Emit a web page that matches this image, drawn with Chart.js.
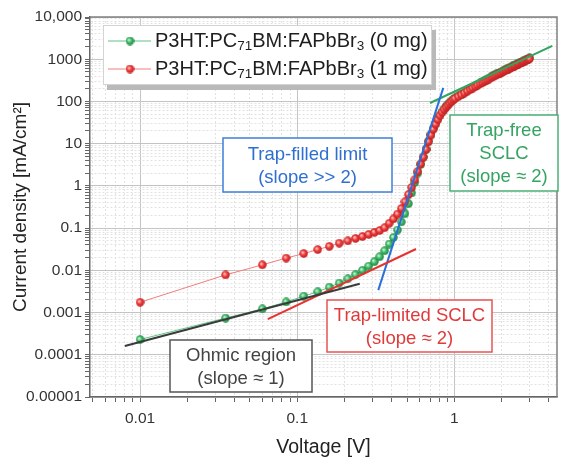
<!DOCTYPE html>
<html>
<head>
<meta charset="utf-8">
<script src="https://cdn.jsdelivr.net/npm/chart.js@4.4.0/dist/chart.umd.min.js"></script>
<style>
  html, body { margin: 0; padding: 0; background: #fff; }
  canvas { display: block; }
</style>
</head>
<body>
<canvas id="jv-chart" width="562" height="460"></canvas>
<script>
// voltage sweep [V]
const voltage = [
  0.01, 0.035, 0.06, 0.085, 0.11, 0.135, 0.16, 0.185, 0.21, 0.235, 0.26, 0.285, 0.31, 0.335,
  0.36, 0.385, 0.41, 0.435, 0.46, 0.485, 0.51, 0.535, 0.56, 0.585, 0.61, 0.635, 0.66, 0.685,
  0.71, 0.735, 0.76, 0.785, 0.81, 0.835, 0.86, 0.885, 0.91, 0.935, 0.96, 0.985, 1.01,
  1.06, 1.11, 1.16, 1.21, 1.26, 1.31, 1.36, 1.41, 1.46, 1.51, 1.56, 1.61, 1.66, 1.71, 1.76,
  1.81, 1.86, 1.91, 1.96, 2.01, 2.06, 2.11, 2.16, 2.21, 2.26, 2.31, 2.36, 2.41, 2.46, 2.51,
  2.56, 2.61, 2.66, 2.71, 2.76, 2.81, 2.86, 2.91, 2.96, 3.01
];

// current density [mA/cm2], 0 mg perovskite
const current0mg = [
  0.00023, 0.00074, 0.00122, 0.00178, 0.00245, 0.0031, 0.0040, 0.0050, 0.0063, 0.0079, 0.0100, 0.0126, 0.0160, 0.021,
  0.029, 0.042, 0.060, 0.090, 0.14, 0.22, 0.38, 0.68, 1.2, 2.0, 3.2, 4.8, 7.3, 11.5,
  16.5, 23, 30, 38.5, 48, 57, 67, 76, 85, 95, 104, 113, 122,
  136, 150, 166, 183, 200, 218, 236, 255, 275, 295, 316, 337, 358, 380, 402,
  424, 447, 470, 493, 517, 541, 565, 590, 615, 640, 666, 692, 719, 746, 774,
  802, 830, 859, 888, 918, 948, 978, 1009, 1040, 1075
];

// current density [mA/cm2], 1 mg perovskite
const current1mg = [
  0.00175, 0.0078, 0.0135, 0.0195, 0.025, 0.031, 0.037, 0.044, 0.050, 0.057, 0.063, 0.071, 0.079, 0.088,
  0.102, 0.13, 0.165, 0.215, 0.29, 0.42, 0.62, 0.92, 1.4, 2.2, 3.3, 4.8, 7.3, 11.2,
  16, 22, 29, 37, 46, 55, 64, 73, 82, 91, 100, 109, 117,
  130, 143, 158, 174, 190, 207, 224, 242, 261, 280, 300, 320, 340, 361, 382,
  403, 425, 447, 468, 491, 514, 537, 560, 584, 608, 633, 658, 684, 710, 740,
  766, 793, 820, 848, 876, 905, 934, 964, 994, 1030
];

// fitted regimes (two end points each)
const ohmicV = [0.008, 0.25];
const ohmicJ = [0.000162, 0.0048];
const trapLimitedV = [0.065, 0.57];
const trapLimitedJ = [0.0007, 0.032];
const trapFilledV = [0.328, 0.85];
const trapFilledJ = [0.0034, 210];
const trapFreeV = [0.70, 4.2];
const trapFreeJ = [92, 2080];

// axis ticks
const xTickValues = [0.01, 0.1, 1];
const xTickLabels = ['0.01', '0.1', '1'];
const yTickValues = [1e-5, 1e-4, 1e-3, 1e-2, 1e-1, 1, 10, 100, 1000, 10000];
const yTickLabels = ['0.00001', '0.0001', '0.001', '0.01', '0.1', '1', '10', '100', '1000', '10,000'];

const FONT = '"Liberation Sans", Arial, sans-serif';
Chart.defaults.font.family = FONT;

function toPoints(xs, ys) {
  return xs.map((x, i) => ({ x: x, y: ys[i] }));
}

function sphere(light, base, dark) {
  const c = document.createElement('canvas');
  c.width = 9;
  c.height = 9;
  const g = c.getContext('2d');
  const grad = g.createRadialGradient(3.3, 3.3, 0.4, 4.5, 4.5, 4.6);
  grad.addColorStop(0, light);
  grad.addColorStop(0.45, base);
  grad.addColorStop(1, dark);
  g.fillStyle = grad;
  g.beginPath();
  g.arc(4.5, 4.5, 4.2, 0, Math.PI * 2);
  g.fill();
  return c;
}

const greenDot = sphere('#c8f5d3', '#3dbb68', '#1c7a3b');
const redDot = sphere('#ffc0c0', '#f03b3b', '#b31a1a');

function decadeTicks(scale) {
  const ticks = [];
  for (let e = -6; e <= 4; e++) {
    for (let m = 1; m < 10; m++) {
      const v = m * Math.pow(10, e);
      if (v >= scale.min * 0.999 && v <= scale.max * 1.001) {
        ticks.push({ value: v, major: m === 1 });
      }
    }
  }
  scale.ticks = ticks;
}

function labelFor(values, labels) {
  return (val) => {
    const i = values.findIndex(t => Math.abs(val - t) / t < 1e-6);
    return i >= 0 ? labels[i] : '';
  };
}

function drawBox(ctx, x, y, w, h, color, lines, textColor) {
  ctx.save();
  ctx.fillStyle = '#fff';
  ctx.fillRect(x, y, w, h);
  ctx.strokeStyle = color;
  ctx.lineWidth = 1.5;
  ctx.strokeRect(x, y, w, h);
  ctx.fillStyle = textColor;
  ctx.font = '18.5px ' + FONT;
  ctx.textAlign = 'center';
  ctx.textBaseline = 'middle';
  const lh = 23;
  const cy = y + h / 2 + 1;
  lines.forEach((t, i) => {
    ctx.fillText(t, x + w / 2, cy + (i - (lines.length - 1) / 2) * lh);
  });
  ctx.restore();
}

function drawRich(ctx, x, y, parts) {
  parts.forEach(([txt, sub]) => {
    ctx.font = (sub ? '13.5px ' : '20px ') + FONT;
    ctx.fillText(txt, x, sub ? y + 5 : y);
    x += ctx.measureText(txt).width;
  });
}

const decorations = {
  id: 'decorations',
  beforeDatasetsDraw(chart) {
    const { ctx, chartArea: a } = chart;
    ctx.save();
    ctx.strokeStyle = '#808080';
    ctx.lineWidth = 1.5;
    ctx.beginPath();
    ctx.moveTo(a.left, a.top);
    ctx.lineTo(a.right, a.top);
    ctx.lineTo(a.right, a.bottom);
    ctx.stroke();
    ctx.restore();
  },
  afterDraw(chart) {
    const ctx = chart.ctx;
    drawBox(ctx, 223, 138, 169, 54, '#3d7fd9', ['Trap-filled limit', '(slope >> 2)'], '#2f6fd0');
    drawBox(ctx, 450, 115, 108, 76, '#4caf76', ['Trap-free', 'SCLC', '(slope \u2248 2)'], '#35a463');
    drawBox(ctx, 327, 300, 165, 52, '#e65454', ['Trap-limited SCLC', '(slope \u2248 2)'], '#e03a3a');
    drawBox(ctx, 170, 340, 142, 52, '#555', ['Ohmic region', '(slope \u2248 1)'], '#444');

    // legend
    ctx.save();
    ctx.fillStyle = '#b9b9b9';
    ctx.fillRect(107, 30, 329, 60);
    ctx.fillStyle = '#fff';
    ctx.fillRect(103, 25, 329, 60);
    ctx.strokeStyle = '#d4d4d4';
    ctx.lineWidth = 1;
    ctx.strokeRect(103.5, 25.5, 328, 59);
    const entries = [
      { y: 41, line: '#5cc383', dot: greenDot, mg: ' (0 mg)' },
      { y: 69, line: '#f37c7c', dot: redDot, mg: ' (1 mg)' }
    ];
    entries.forEach(e => {
      ctx.strokeStyle = e.line;
      ctx.lineWidth = 1;
      ctx.beginPath();
      ctx.moveTo(108, e.y);
      ctx.lineTo(151, e.y);
      ctx.stroke();
      ctx.drawImage(e.dot, 130 - 4.5, e.y - 4.5);
      ctx.fillStyle = '#1e1e1e';
      ctx.textBaseline = 'middle';
      drawRich(ctx, 155, e.y, [['P3HT:PC', 0], ['71', 1], ['BM:FAPbBr', 0], ['3', 1], [e.mg, 0]]);
    });
    ctx.restore();
  }
};

const ctx = document.getElementById('jv-chart').getContext('2d');

new Chart(ctx, {
  type: 'scatter',
  data: {
    datasets: [
      {
        label: 'Ohmic',
        data: toPoints(ohmicV, ohmicJ),
        showLine: true,
        borderColor: '#3a3a3a',
        borderWidth: 2,
        pointRadius: 0,
        order: 0
      },
      {
        label: 'Trap-limited',
        data: toPoints(trapLimitedV, trapLimitedJ),
        showLine: true,
        borderColor: '#e8322f',
        borderWidth: 2,
        pointRadius: 0,
        order: 0
      },
      {
        label: 'Trap-filled',
        data: toPoints(trapFilledV, trapFilledJ),
        showLine: true,
        borderColor: '#2a6fdb',
        borderWidth: 2,
        pointRadius: 0,
        order: 0
      },
      {
        label: 'Trap-free',
        data: toPoints(trapFreeV, trapFreeJ),
        showLine: true,
        borderColor: '#2fa560',
        borderWidth: 2,
        pointRadius: 0,
        order: 0
      },
      {
        label: 'P3HT:PC71BM:FAPbBr3 (1 mg)',
        data: toPoints(voltage, current1mg),
        showLine: true,
        borderColor: '#f37c7c',
        borderWidth: 1,
        pointStyle: redDot,
        pointRadius: 4,
        order: 1
      },
      {
        label: 'P3HT:PC71BM:FAPbBr3 (0 mg)',
        data: toPoints(voltage, current0mg),
        showLine: true,
        borderColor: '#5cc383',
        borderWidth: 1,
        pointStyle: greenDot,
        pointRadius: 4,
        order: 2
      }
    ]
  },
  options: {
    responsive: false,
    animation: false,
    layout: { padding: { top: 17, right: 5, left: 0, bottom: 0 } },
    plugins: {
      legend: { display: false },
      tooltip: { enabled: false }
    },
    scales: {
      x: {
        type: 'logarithmic',
        min: 0.0048,
        max: 4.5,
        afterFit: s => { s.height = 63; },
        afterBuildTicks: decadeTicks,
        grid: {
          color: c => (c.tick && c.tick.major ? '#c4c4c4' : '#e2e2e2'),
          tickColor: '#666',
          tickLength: 5
        },
        border: {
          color: '#666',
          width: 1.5,
          dash: c => (c.tick && !c.tick.major ? [2, 2] : [])
        },
        ticks: {
          autoSkip: false,
          maxRotation: 0,
          padding: 7,
          color: '#333',
          font: { size: 15.5 },
          callback: labelFor(xTickValues, xTickLabels)
        },
        title: {
          display: true,
          text: 'Voltage [V]',
          color: '#222',
          font: { size: 19.5 },
          padding: { top: 0, bottom: 1 }
        }
      },
      y: {
        type: 'logarithmic',
        min: 1e-5,
        max: 1e4,
        afterFit: s => { s.width = 90; },
        afterBuildTicks: decadeTicks,
        grid: {
          color: c => (c.tick && c.tick.major ? '#c4c4c4' : '#e2e2e2'),
          tickColor: '#666',
          tickLength: 5
        },
        border: {
          color: '#666',
          width: 1.5,
          dash: c => (c.tick && !c.tick.major ? [2, 2] : [])
        },
        ticks: {
          autoSkip: false,
          padding: 3,
          color: '#333',
          font: { size: 15.5 },
          callback: labelFor(yTickValues, yTickLabels)
        },
        title: {
          display: true,
          text: 'Current density [mA/cm\u00b2]',
          color: '#222',
          font: { size: 19 },
          padding: { top: 9, bottom: 0 }
        }
      }
    }
  },
  plugins: [decorations]
});
</script>
</body>
</html>
